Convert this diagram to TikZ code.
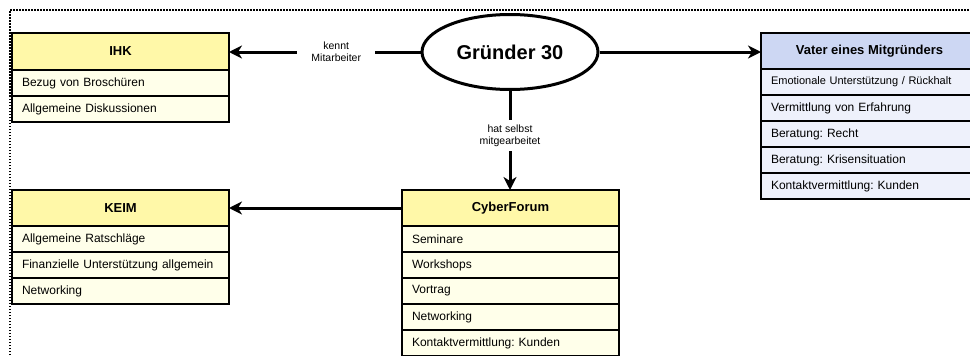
\documentclass[tikz,border=0pt]{standalone}
\usepackage{fontspec}
\setmainfont{Liberation Sans}
\frenchspacing
\usetikzlibrary{arrows.meta,shapes.geometric,positioning}
\definecolor{hdrY}{HTML}{FFF8A8}
\definecolor{rowY}{HTML}{FFFFEA}
\definecolor{hdrB}{HTML}{CDD7F3}
\definecolor{rowB}{HTML}{EEF1FB}
\tikzset{
  hdr/.style={draw=black, line width=2.2pt, minimum width=217pt, minimum height=37pt,
    font=\fontsize{13}{15}\selectfont\bfseries, inner sep=0pt, outer sep=0pt},
  row/.style={draw=black, line width=2.2pt, minimum width=217pt, minimum height=26pt,
    text width=197pt, align=left, inner xsep=10pt, inner ysep=0pt, outer sep=0pt,
    font=\fontsize{12}{14}\selectfont, below=0pt of #1},
  conn/.style={line width=3pt, -{Stealth[length=13pt,width=13pt,inset=4pt]}},
  lbl/.style={fill=white, font=\fontsize{10.5}{12}\selectfont, align=center, inner xsep=14pt, inner ysep=5pt}
}
\begin{document}
\begin{tikzpicture}[x=1pt,y=-1pt]
\useasboundingbox (0,0) rectangle (970,356);
\clip (0,0) rectangle (970,356);
\draw[line width=1.8pt, dash pattern=on 1.5pt off 1.5pt] (10,370) -- (10,10) -- (985,10);

% IHK
\node[hdr, fill=hdrY, anchor=north west] (ihk) at (12,33) {IHK};
\node[row=ihk, fill=rowY] (ihk1) {Bezug von Broschüren};
\node[row=ihk1, fill=rowY] (ihk2) {Allgemeine Diskussionen};

% KEIM
\node[hdr, fill=hdrY, anchor=north west, minimum height=36pt] (keim) at (12,190) {KEIM};
\node[row=keim, fill=rowY] (keim1) {Allgemeine Ratschläge};
\node[row=keim1, fill=rowY] (keim2) {Finanzielle Unterstützung allgemein};
\node[row=keim2, fill=rowY] (keim3) {Networking};

% CyberForum
\node[hdr, fill=hdrY, anchor=north west, minimum height=36pt] (cyb) at (402,190) {CyberForum};
\node[row=cyb, fill=rowY] (cyb1) {Seminare};
\node[row=cyb1, fill=rowY] (cyb2) {Workshops};
\node[row=cyb2, fill=rowY] (cyb3) {Vortrag};
\node[row=cyb3, fill=rowY] (cyb4) {Networking};
\node[row=cyb4, fill=rowY] (cyb5) {Kontaktvermittlung: Kunden};

% Vater
\node[hdr, fill=hdrB, anchor=north west, minimum height=36pt] (vat) at (761,33) {Vater eines Mitgründers};
\node[row=vat, fill=rowB, font=\fontsize{11}{13}\selectfont] (vat1) {Emotionale Unterstützung / Rückhalt};
\node[row=vat1, fill=rowB] (vat2) {Vermittlung von Erfahrung};
\node[row=vat2, fill=rowB] (vat3) {Beratung: Recht};
\node[row=vat3, fill=rowB] (vat4) {Beratung: Krisensituation};
\node[row=vat4, fill=rowB] (vat5) {Kontaktvermittlung: Kunden};

% Gründer 30
\node[ellipse, draw=black, fill=white, line width=3pt, minimum width=176pt, minimum height=75pt,
  inner sep=0pt, font=\fontsize{20}{24}\selectfont\bfseries] (g) at (510,52) {Gründer 30};

% connectors
\draw[conn] (g.west) -- node[lbl, pos=0.44] {kennt\\Mitarbeiter} (g.west -| ihk.east);
\draw[conn] (g.east) -- (g.east -| vat.west);
\draw[conn] (g.south) -- node[lbl, pos=0.45] {hat selbst\\mitgearbeitet} (g.south |- cyb.north);
\draw[conn] (cyb.west) -- (cyb.west -| keim.east);
\end{tikzpicture}
\end{document}
